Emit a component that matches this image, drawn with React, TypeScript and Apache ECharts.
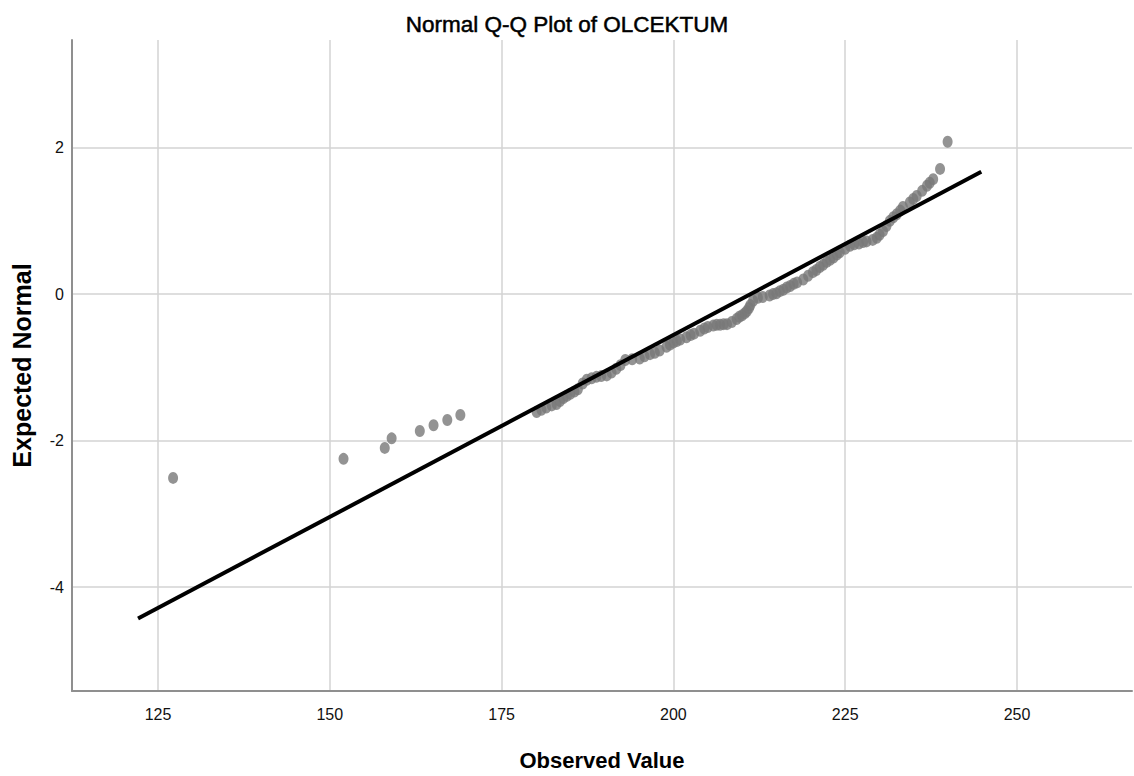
import React, { useEffect, useRef } from "react";
import * as echarts from "echarts";

const observedValues = [
  127.2, 152.0, 158.0, 159.0, 163.1, 165.1, 167.1, 169.0,
  180.1, 180.8, 181.5, 182.3, 183.0, 183.5, 184.0, 184.5, 185.0, 185.6,
  186.1, 186.8, 187.4, 188.1, 188.8, 189.5, 190.3, 191.0, 191.7, 192.3,
  193.0, 194.0, 195.1, 195.8, 196.6, 197.3, 198.0, 199.0, 199.5, 200.0,
  200.5, 201.0, 201.9, 202.5, 203.0, 203.9, 204.5, 205.0, 205.8, 206.3,
  206.8, 207.3, 207.8, 208.5, 209.2, 209.6, 210.0, 210.4, 210.7, 211.0,
  211.2, 211.6, 212.3, 213.0, 214.0, 214.5, 215.0, 215.5, 216.0, 216.5,
  217.0, 217.5, 218.0, 218.9, 219.6, 220.3, 220.8, 221.3, 221.8, 222.3,
  222.8, 223.3, 223.8, 224.2, 225.0, 225.7, 226.3, 227.0, 227.6, 228.1,
  229.0, 229.6, 230.0, 230.5, 231.0, 231.5, 232.0, 232.5, 233.0, 233.4,
  234.4, 234.9, 235.4, 236.2, 236.9, 237.3, 237.8, 238.8, 239.9,
];
const expectedNormal = [
  -2.51, -2.25, -2.1, -1.97, -1.87, -1.79, -1.72, -1.65,
  -1.61, -1.58, -1.55, -1.52, -1.5, -1.46, -1.42, -1.39, -1.36, -1.33,
  -1.3, -1.22, -1.17, -1.15, -1.13, -1.12, -1.11, -1.07, -1.02, -0.97,
  -0.9, -0.89, -0.88, -0.85, -0.82, -0.8, -0.77, -0.72, -0.69, -0.66,
  -0.64, -0.62, -0.59, -0.56, -0.54, -0.5, -0.47, -0.45, -0.43, -0.42,
  -0.42, -0.41, -0.41, -0.38, -0.34, -0.31, -0.29, -0.26, -0.23, -0.19,
  -0.15, -0.09, -0.05, -0.04, -0.02, 0.0, 0.01, 0.04, 0.06, 0.09,
  0.11, 0.14, 0.16, 0.2, 0.25, 0.3, 0.33, 0.37, 0.4, 0.44,
  0.47, 0.5, 0.54, 0.57, 0.62, 0.66, 0.68, 0.69, 0.71, 0.72,
  0.74, 0.77, 0.81, 0.86, 0.93, 1.0, 1.05, 1.09, 1.14, 1.19,
  1.25, 1.3, 1.34, 1.41, 1.48, 1.52, 1.57, 1.71, 2.08,
];
const refLineX = [122.1, 244.8];
const refLineY = [-4.43, 1.67];
const xTicks = [125, 150, 175, 200, 225, 250];
const yTicks = [-4, -2, 0, 2];

const mainFont = "'Liberation Sans', Arial, sans-serif";

export default function App() {
  const ref = useRef<HTMLDivElement>(null);
  useEffect(() => {
    if (!ref.current) return;
    const chart = echarts.init(ref.current, undefined, { renderer: "svg" });
    const points = observedValues.map((x, i) => [x, expectedNormal[i]]);
    const line = refLineX.map((x, i) => [x, refLineY[i]]);
    chart.setOption({
      animation: false,
      backgroundColor: "#ffffff",
      title: {
        text: "Normal Q-Q Plot of OLCEKTUM",
        left: "center",
        top: 8,
        textStyle: {
          fontFamily: mainFont,
          fontSize: 22.5,
          fontWeight: "normal",
          color: "#000",
          textBorderColor: "#000",
          textBorderWidth: 0.5,
        },
      },
      grid: { left: 72, right: 2, top: 40, bottom: 84, containLabel: false },
      xAxis: {
        type: "value",
        min: 112.49,
        max: 266.73,
        name: "Observed Value",
        nameLocation: "middle",
        nameGap: 58,
        nameTextStyle: { fontFamily: mainFont, fontSize: 22, fontWeight: "bold", color: "#000" },
        axisLine: { show: true, onZero: false, lineStyle: { color: "#8f8f8f", width: 2 } },
        axisTick: { show: false, customValues: xTicks },
        axisLabel: {
          customValues: xTicks,
          margin: 15,
          fontFamily: mainFont,
          fontSize: 16,
          color: "#111",
        },
        splitLine: { show: true, lineStyle: { color: "#d3d3d3", width: 1.5 } },
      },
      yAxis: {
        type: "value",
        min: -5.42,
        max: 3.47,
        name: "Expected Normal",
        nameLocation: "middle",
        nameGap: 38,
        nameTextStyle: { fontFamily: mainFont, fontSize: 25, fontWeight: "bold", color: "#000" },
        axisLine: { show: true, onZero: false, lineStyle: { color: "#8f8f8f", width: 2 } },
        axisTick: { show: false, customValues: yTicks },
        axisLabel: {
          customValues: yTicks,
          margin: 8,
          fontFamily: mainFont,
          fontSize: 16,
          color: "#111",
        },
        splitLine: { show: true, lineStyle: { color: "#d3d3d3", width: 1.5 } },
      },
      series: [
        {
          type: "scatter",
          data: points,
          symbol: "circle",
          symbolSize: [10, 12],
          itemStyle: { color: "#787878" },
          z: 2,
        },
        {
          type: "line",
          data: line,
          showSymbol: false,
          symbol: "none",
          lineStyle: { color: "#000", width: 4 },
          z: 3,
        },
      ],
    });
    return () => chart.dispose();
  }, []);
  return (
    <div
      ref={ref}
      style={{ position: "absolute", left: 0, top: 0, width: 1134, height: 776 }}
    />
  );
}
